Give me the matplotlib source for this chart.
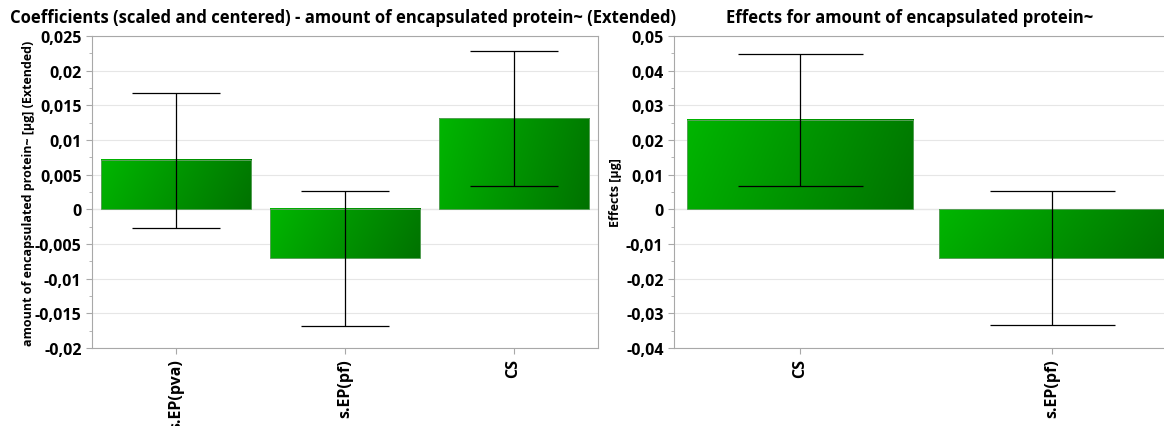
import numpy as np
import matplotlib.pyplot as plt
from matplotlib.colors import LinearSegmentedColormap
from matplotlib.ticker import FuncFormatter, MultipleLocator

plt.rcParams['font.family'] = ['Open Sans', 'DejaVu Sans']
plt.rcParams['font.weight'] = 'bold'

# coefficients (scaled and centered)
coef_terms = ['s.EP(pva)', 's.EP(pf)', 'CS']
coef_values = [0.00707, -0.00707, 0.0131]
coef_err = [0.0097, 0.0097, 0.0098]

# effects
eff_terms = ['CS', 's.EP(pf)']
eff_values = [0.0258, -0.0140]
eff_err = [0.0190, 0.0193]

green_grad = LinearSegmentedColormap.from_list('grad', ['#00b600', '#007200'])


def comma_fmt(v, pos):
    s = '%g' % round(v, 6)
    return s.replace('.', ',')


def gradient_bars(ax, values, width):
    # diagonal shading: light at top-left, dark at bottom-right
    gx, gy = np.meshgrid(np.linspace(0, 1, 200), np.linspace(0, 1, 60))
    grad = 0.85 * gx + 0.15 * gy
    for i, v in enumerate(values):
        x0 = i - width / 2
        y0, y1 = min(0, v), max(0, v)
        ax.imshow(grad, cmap=green_grad, aspect='auto', origin='upper',
                  extent=(x0, x0 + width, y0, y1), zorder=2)
        ax.add_patch(plt.Rectangle((x0, y0), width, y1 - y0, fill=False,
                                   edgecolor='#58a058', lw=0.7, zorder=3))


def style_axes(ax, terms, ylim, major, minor):
    ax.set_xlim(-0.5, len(terms) - 0.5)
    ax.set_ylim(*ylim)
    ax.yaxis.set_major_locator(MultipleLocator(major))
    ax.yaxis.set_minor_locator(MultipleLocator(minor))
    ax.yaxis.set_major_formatter(FuncFormatter(comma_fmt))
    ax.set_xticks(range(len(terms)))
    ax.set_xticklabels(terms, rotation=90, fontsize=11.5, fontweight='bold')
    ax.grid(axis='y', color='#e6e6e6', lw=0.8, zorder=0)
    ax.axhline(0, color='#b8b8b8', lw=0.8, zorder=1)
    for sp in ax.spines.values():
        sp.set_color('#a8a8a8')
    ax.tick_params(axis='both', which='major', color='#a8a8a8', length=4,
                   labelsize=11.5)
    ax.tick_params(axis='y', which='minor', color='#a8a8a8', length=2.5)
    for lab in ax.get_yticklabels():
        lab.set_fontweight('bold')


fig = plt.figure(figsize=(11.64, 4.27), dpi=100)

ax1 = fig.add_axes([0.079, 0.1827, 0.4347, 0.7307])
gradient_bars(ax1, coef_values, 0.89)
ax1.errorbar(range(3), coef_values, yerr=coef_err, fmt='none', ecolor='black',
             elinewidth=0.9, capsize=32, capthick=0.9, zorder=4)
style_axes(ax1, coef_terms, (-0.02, 0.025), 0.005, 0.0025)
ax1.set_ylabel('amount of encapsulated protein~ [µg] (Extended)', fontsize=9,
               fontweight='bold')
ax1.yaxis.set_label_coords(-0.112, 0.5)

ax2 = fig.add_axes([0.579, 0.1827, 0.433, 0.7307])
gradient_bars(ax2, eff_values, 0.9)
ax2.errorbar(range(2), eff_values, yerr=eff_err, fmt='none', ecolor='black',
             elinewidth=0.9, capsize=45, capthick=0.9, zorder=4)
style_axes(ax2, eff_terms, (-0.04, 0.05), 0.01, 0.005)
ax2.set_ylabel('Effects [µg]', fontsize=9, fontweight='bold')
ax2.yaxis.set_label_coords(-0.103, 0.5)

fig.text(10 / 1164, 1 - 18 / 427,
         'Coefficients (scaled and centered) - amount of encapsulated protein~ (Extended)',
         fontsize=12, fontweight='bold', va='center', ha='left')
fig.text(726 / 1164, 1 - 18 / 427, 'Effects for amount of encapsulated protein~',
         fontsize=12, fontweight='bold', va='center', ha='left')

fig.savefig('out.png', dpi=100)
